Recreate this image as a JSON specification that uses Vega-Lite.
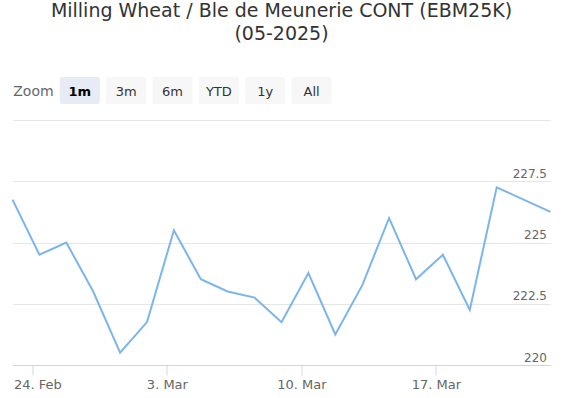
{
  "$schema": "https://vega.github.io/schema/vega-lite/v6.json",
  "background": "#ffffff",
  "padding": {"left": 8.5, "top": 2, "right": 0, "bottom": 0},
  "config": {
    "font": "DejaVu Sans",
    "view": {"stroke": null}
  },
  "title": {
    "text": ["Milling Wheat / Ble de Meunerie CONT (EBM25K)", "(05-2025)"],
    "anchor": "middle",
    "frame": "bounds",
    "font": "DejaVu Sans",
    "fontSize": 19,
    "fontWeight": "normal",
    "color": "#333333",
    "lineHeight": 23,
    "offset": 33
  },
  "spacing": 16,
  "vconcat": [
    {
      "width": 320,
      "height": 27,
      "data": {"values": [
        {"b": "Zoom", "kind": "label"},
        {"b": "1m", "kind": "selected"},
        {"b": "3m", "kind": "normal"},
        {"b": "6m", "kind": "normal"},
        {"b": "YTD", "kind": "normal"},
        {"b": "1y", "kind": "normal"},
        {"b": "All", "kind": "normal"}
      ]},
      "encoding": {
        "x": {
          "field": "b",
          "type": "nominal",
          "scale": {"domain": ["Zoom", "1m", "3m", "6m", "YTD", "1y", "All"], "paddingInner": 0.136, "paddingOuter": 0.02},
          "axis": null
        }
      },
      "layer": [
        {
          "transform": [{"filter": "datum.kind != 'label'"}],
          "mark": {"type": "rect", "cornerRadius": 2},
          "encoding": {
            "fill": {"field": "kind", "type": "nominal", "scale": {"domain": ["selected", "normal"], "range": ["#e6ebf5", "#f7f7f7"]}, "legend": null}
          }
        },
        {
          "transform": [{"filter": "datum.kind == 'label'"}],
          "mark": {"type": "text", "fontSize": 14, "color": "#666666", "baseline": "middle", "dy": 1},
          "encoding": {"text": {"field": "b"}}
        },
        {
          "transform": [{"filter": "datum.kind == 'selected'"}],
          "mark": {"type": "text", "fontSize": 13, "fontWeight": "bold", "color": "#000000", "baseline": "middle", "dy": 1},
          "encoding": {"text": {"field": "b"}}
        },
        {
          "transform": [{"filter": "datum.kind == 'normal'"}],
          "mark": {"type": "text", "fontSize": 13, "color": "#333333", "baseline": "middle", "dy": 1},
          "encoding": {"text": {"field": "b"}}
        }
      ]
    },
    {
      "width": 538,
      "height": 245,
      "data": {"values": [
        {"date": "2025-02-21", "price": 226.75},
        {"date": "2025-02-24", "price": 224.5},
        {"date": "2025-02-25", "price": 225.0},
        {"date": "2025-02-26", "price": 223.0},
        {"date": "2025-02-27", "price": 220.5},
        {"date": "2025-02-28", "price": 221.75},
        {"date": "2025-03-03", "price": 225.5},
        {"date": "2025-03-04", "price": 223.5},
        {"date": "2025-03-05", "price": 223.0},
        {"date": "2025-03-06", "price": 222.75},
        {"date": "2025-03-07", "price": 221.75},
        {"date": "2025-03-10", "price": 223.75},
        {"date": "2025-03-11", "price": 221.25},
        {"date": "2025-03-12", "price": 223.25},
        {"date": "2025-03-13", "price": 226.0},
        {"date": "2025-03-14", "price": 223.5},
        {"date": "2025-03-17", "price": 224.5},
        {"date": "2025-03-18", "price": 222.25},
        {"date": "2025-03-19", "price": 227.25},
        {"date": "2025-03-20", "price": 226.75},
        {"date": "2025-03-21", "price": 226.25}
      ]},
      "mark": {"type": "line", "color": "#7cb5ec", "strokeWidth": 2},
      "encoding": {
        "x": {
          "field": "date",
          "type": "ordinal",
          "scale": {"type": "point", "padding": 0},
          "axis": {
            "title": null,
            "values": ["2025-02-24", "2025-03-03", "2025-03-10", "2025-03-17"],
            "labelExpr": "utcFormat(toDate(datum.value), '%-d. %b')",
            "labelAngle": 0,
            "tickOffset": -7,
            "tickSize": 10,
            "tickColor": "#ccd6eb",
            "domainColor": "#ccd6eb",
            "grid": false,
            "labelFont": "DejaVu Sans",
            "labelFontSize": 13,
            "labelColor": "#666666",
            "labelPadding": 3,
            "labelOffset": {"condition": {"test": "datum.value == '2025-02-24'", "value": 5}, "value": 0}
          }
        },
        "y": {
          "field": "price",
          "type": "quantitative",
          "scale": {"domain": [220, 230], "zero": false, "nice": false},
          "axis": {
            "title": null,
            "orient": "right",
            "values": [220, 222.5, 225, 227.5, 230],
            "labelExpr": "datum.value == 230 ? '' : format(datum.value, '~g')",
            "grid": true,
            "gridColor": "#e6e6e6",
            "domain": false,
            "ticks": false,
            "labelAlign": "right",
            "labelBaseline": "alphabetic",
            "labelPadding": -4,
            "labelOffset": -4,
            "labelFont": "DejaVu Sans",
            "labelFontSize": 12,
            "labelColor": "#666666"
          }
        }
      }
    }
  ]
}
